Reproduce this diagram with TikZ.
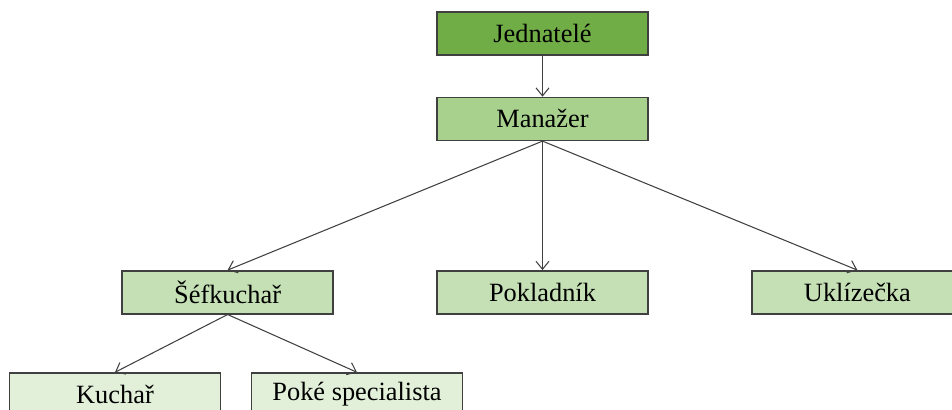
\documentclass[tikz,border=0pt]{standalone}
\usepackage{fontspec}
\setmainfont{Liberation Serif}
\usetikzlibrary{arrows.meta, positioning}
\definecolor{GTop}{HTML}{70AD47}
\definecolor{GMid}{HTML}{A9D18E}
\definecolor{GLow}{HTML}{C5E0B4}
\definecolor{GPale}{HTML}{E2F0D9}
\definecolor{CLine}{HTML}{404040}
\tikzset{
    rolebox/.style={rectangle, draw=CLine, text=black, minimum width=4.22cm, minimum height=0.86cm, align=center, font=\fontsize{15}{18}\selectfont, line width=0.8pt, inner sep=0pt},
    orgarrow/.style={->, >={Straight Barb[length=1.6mm, width=2.6mm]}, draw=CLine, line width=0.6pt}
}

\begin{document}
\begin{tikzpicture}[node distance=0.82cm and 2.05cm]
    \clip (0,0) rectangle (19.04,-8.2);
    % Nodes
    \node[rolebox, fill=GTop] (jednatele) at (10.85,-0.67) {Jednatelé};
    \node[rolebox, fill=GMid, below=of jednatele] (manazer) {Manažer};
    \node[rolebox, fill=GLow, below=2.58cm of manazer] (pokladnik) {Pokladník};
    \node[rolebox, fill=GLow, left=of pokladnik] (sefkuchar) {Šéfkuchař};
    \node[rolebox, fill=GLow, right=of pokladnik] (uklizecka) {Uklízečka};
    \node[rolebox, fill=GPale] (kuchar) at (2.3,-7.89) {Kuchař};
    \node[rolebox, fill=GPale] (poke) at (7.14,-7.89) {Poké specialista};

    % Paths
    \draw[orgarrow] (jednatele) -- (manazer);
    \draw[orgarrow] (manazer.south) -- (sefkuchar.north);
    \draw[orgarrow] (manazer.south) -- (pokladnik.north);
    \draw[orgarrow] (manazer.south) -- (uklizecka.north);
    \draw[orgarrow] (sefkuchar.south) -- (kuchar.north);
    \draw[orgarrow] (sefkuchar.south) -- (poke.north);
\end{tikzpicture}
\end{document}
